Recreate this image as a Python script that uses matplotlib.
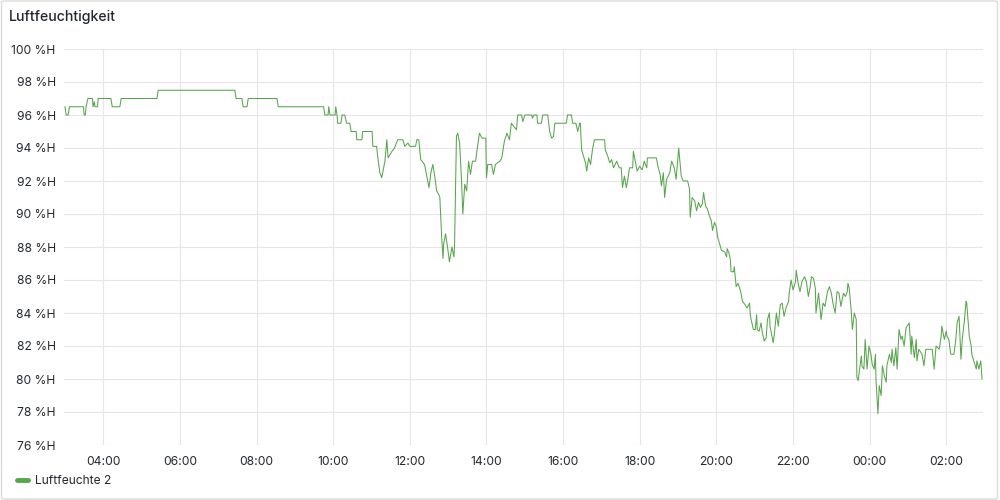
#!/usr/bin/env python

import datetime as dt
import numpy as np
import matplotlib
matplotlib.use("Agg")
import matplotlib.pyplot as plt
import matplotlib.dates as mdates
from matplotlib.patches import FancyBboxPatch

# minutes after 03:00 (day 1) and relative humidity in %H
minutes = [0, 2, 5, 7, 29, 30, 32, 33, 36, 43, 44, 46, 47, 51, 52, 72, 74, 86, 88, 144,
           146, 266, 268, 277, 279, 285, 287, 332, 334, 405, 407, 412, 413, 415, 423, 424, 426,
           427, 432, 434, 438, 441, 446, 448, 456, 457, 465, 466, 481, 482, 488, 490, 493, 496,
           501, 504, 506, 512, 516, 521, 529, 532, 537, 540, 549, 551, 554, 557, 563, 567, 570,
           573, 576, 579, 582, 585, 587, 590, 592, 593, 596, 599, 602, 606, 609, 610, 613, 615,
           618, 621, 623, 626, 629, 632, 635, 638, 643, 646, 649, 653, 659, 660, 662, 668, 671,
           674, 681, 684, 688, 692, 696, 699, 703, 707, 709, 715, 717, 720, 731, 732, 734, 739,
           740, 746, 748, 756, 759, 762, 765, 767, 785, 787, 793, 795, 800, 803, 806, 807, 809,
           812, 815, 817, 820, 823, 826, 829, 845, 846, 850, 853, 856, 859, 864, 868, 871, 873,
           876, 879, 881, 884, 889, 890, 893, 896, 900, 903, 904, 907, 911, 912, 926, 929, 932,
           934, 937, 939, 942, 947, 950, 954, 957, 961, 965, 968, 975, 978, 979, 982, 986, 989,
           992, 995, 998, 1000, 1003, 1006, 1009, 1012, 1014, 1017, 1020, 1022, 1025, 1028, 1033,
           1036, 1037, 1040, 1042, 1043, 1047, 1048, 1051, 1054, 1058, 1061, 1065, 1068, 1072,
           1073, 1075, 1078, 1081, 1083, 1084, 1087, 1090, 1092, 1095, 1098, 1100, 1103, 1104,
           1106, 1109, 1111, 1114, 1117, 1120, 1123, 1126, 1129, 1133, 1134, 1137, 1140, 1144,
           1145, 1148, 1151, 1154, 1158, 1161, 1164, 1167, 1169, 1172, 1175, 1176, 1180, 1181,
           1184, 1187, 1190, 1194, 1197, 1200, 1203, 1206, 1209, 1212, 1215, 1219, 1222, 1225,
           1226, 1228, 1231, 1233, 1236, 1239, 1240, 1242, 1247, 1248, 1251, 1253, 1256, 1259,
           1262, 1264, 1267, 1269, 1270, 1273, 1275, 1278, 1280, 1283, 1286, 1287, 1291, 1294,
           1295, 1298, 1301, 1303, 1306, 1309, 1311, 1314, 1317, 1322, 1325, 1326, 1330, 1333,
           1334, 1337, 1342, 1345, 1348, 1358, 1361, 1364, 1369, 1372, 1373, 1377, 1380, 1381,
           1384, 1387, 1392, 1395, 1397, 1400, 1403, 1405, 1408, 1411, 1412, 1416, 1419, 1420,
           1423, 1427, 1428, 1431, 1434, 1436]

humidity = [96.5, 96.0, 96.0, 96.5, 96.5, 96.0, 96.0, 96.5, 97.0, 97.0, 96.5, 96.8, 96.5, 96.5,
            97.0, 97.0, 96.5, 96.5, 97.0, 97.0, 97.5, 97.5, 97.0, 97.0, 96.5, 96.5, 97.0, 97.0,
            96.5, 96.5, 96.0, 96.0, 96.5, 96.0, 96.0, 96.5, 96.0,
            95.5, 95.5, 96.0, 96.0, 95.5, 95.5, 95.0, 95.0, 94.5, 94.5, 95.0, 95.0, 94.1, 94.1,
            93.4, 92.5, 92.2, 93.2, 94.5, 93.4, 93.8, 94.0, 94.5, 94.5, 94.1, 94.3, 94.1, 94.1,
            94.5, 94.5, 93.3, 93.0, 92.2, 91.6, 92.5, 93.0, 92.3, 91.4, 91.2, 91.0, 88.5, 87.3,
            88.2, 88.8, 88.0, 87.1, 88.0, 87.4, 88.0, 94.7, 94.9, 94.3, 92.0, 90.0, 91.8, 91.4,
            93.2, 92.4, 93.2, 93.2, 94.1, 94.9, 94.6, 94.6, 92.2, 93.0, 93.0, 92.4, 93.0, 93.2,
            93.4, 94.4, 94.9, 94.5, 95.5, 95.3, 95.1, 96.0, 96.0, 95.6, 96.0, 96.0, 95.8, 96.0,
            96.0, 95.5, 95.5, 96.0, 96.0, 95.0, 94.6, 94.7, 95.5, 95.5, 96.0, 96.0, 95.5, 95.5,
            95.0, 95.5, 95.5, 93.9, 93.5, 93.1, 92.6, 93.4, 93.0, 93.9, 94.5, 94.5, 93.9, 93.5,
            93.1, 93.3, 92.8, 93.2, 92.8, 92.8, 91.6, 92.3, 91.6, 92.0, 92.8, 92.8, 93.8, 93.2,
            92.6, 92.9, 92.7, 92.7, 93.2, 92.8, 93.4, 93.4, 92.8, 92.4, 91.7, 92.5, 91.0, 92.1,
            92.5, 93.2, 92.8, 92.1, 94.0, 92.3, 92.0, 92.0, 91.5, 89.8, 91.0, 90.8, 90.2, 90.7,
            90.4, 90.6, 91.3, 90.5, 90.3, 89.9, 89.6, 89.0, 89.5, 89.2, 88.6, 88.2, 87.8, 87.7,
            87.4, 87.9, 87.6, 87.2, 86.5, 86.5, 86.8, 85.6, 85.8, 85.3, 84.7, 84.5, 84.3, 84.6,
            83.9, 83.5, 83.0, 83.0, 83.9, 83.0, 82.9, 83.4, 82.8, 82.3, 82.5, 83.6, 84.0, 83.2,
            82.8, 82.2, 82.8, 84.0, 83.2, 84.5, 84.6, 83.8, 84.3, 84.7, 85.2, 86.0, 85.4, 85.9,
            86.6, 85.8, 85.3, 85.9, 86.2, 85.9, 85.0, 85.6, 86.2, 86.1, 85.5, 84.0, 85.2, 84.8,
            83.6, 84.6, 84.4, 85.3, 85.6, 85.2, 84.5, 84.0, 85.3, 85.2, 84.4, 85.2, 85.0, 85.3,
            85.8, 85.5, 84.2, 83.0, 84.0, 83.6, 80.1, 79.9, 81.4, 80.8, 80.6, 82.4, 80.6, 82.0,
            81.5, 80.9, 80.6, 81.5, 79.9, 77.9, 79.6, 79.0, 80.8, 80.2, 79.8, 80.8, 81.5, 81.0,
            81.8, 80.8, 81.9, 80.6, 83.0, 82.4, 82.6, 82.0, 83.1, 83.4, 81.5, 82.6, 81.3, 82.4,
            81.1, 81.8, 81.5, 80.8, 81.8, 81.8, 80.6, 82.0, 81.8, 82.6, 83.2, 82.4, 82.9, 82.6,
            82.4, 81.5, 81.5, 82.4, 83.4, 83.8, 81.2, 82.4, 83.4, 84.7, 84.6, 82.6, 82.0, 81.5,
            81.1, 80.6, 81.1, 80.6, 81.1, 80.0]

y_ticks = [76, 78, 80, 82, 84, 86, 88, 90, 92, 94, 96, 98, 100]
series_name = "Luftfeuchte 2"
title = "Luftfeuchtigkeit"


def main():
    plt.rcParams['font.family'] = ['Inter', 'DejaVu Sans']
    start = dt.datetime(2024, 1, 1, 3, 0)
    times = [start + dt.timedelta(minutes=m) for m in minutes]

    fig = plt.figure(figsize=(10, 5), dpi=100)
    fig.patch.set_facecolor('white')

    # panel border
    fig.patches.append(FancyBboxPatch((0.0015, 0.002), 0.996, 0.996,
                                      boxstyle="round,pad=0,rounding_size=0.003",
                                      transform=fig.transFigure, fill=False,
                                      edgecolor='#dcdcdc', linewidth=1))
    fig.text(0.009, 0.966, title, fontsize=10.2, fontweight='medium',
             color='#24292e', ha='left', va='center')

    ax = fig.add_axes([0.064, 0.11, 0.919, 0.792])
    ax.plot(times, humidity, color='#56a64b', linewidth=0.75)

    ax.set_ylim(76, 100)
    ax.set_xlim(start - dt.timedelta(minutes=1.5), start + dt.timedelta(minutes=1437.5))
    ax.set_yticks(y_ticks)
    ax.set_yticklabels(["%d %%H" % v for v in y_ticks])
    ax.xaxis.set_major_locator(mdates.HourLocator(byhour=range(0, 24, 2)))
    ax.xaxis.set_major_formatter(mdates.DateFormatter('%H:%M'))

    ax.grid(True, color='#e6e6e6', linewidth=0.8)
    ax.set_axisbelow(True)
    for s in ax.spines.values():
        s.set_visible(False)
    ax.tick_params(length=0, labelsize=8.7, labelcolor='#24292e')
    ax.tick_params(axis='y', pad=6)
    ax.tick_params(axis='x', pad=8)

    # legend
    fig.legend([plt.Line2D([], [], color='#56a64b', linewidth=3.5, solid_capstyle='round')],
               [series_name], loc='center left', bbox_to_anchor=(0.006, 0.038),
               frameon=False, fontsize=8.7, handlelength=0.9, handletextpad=0.6,
               labelcolor='#24292e')

    plt.savefig('out.png', dpi=100)


if __name__ == "__main__":
    main()
